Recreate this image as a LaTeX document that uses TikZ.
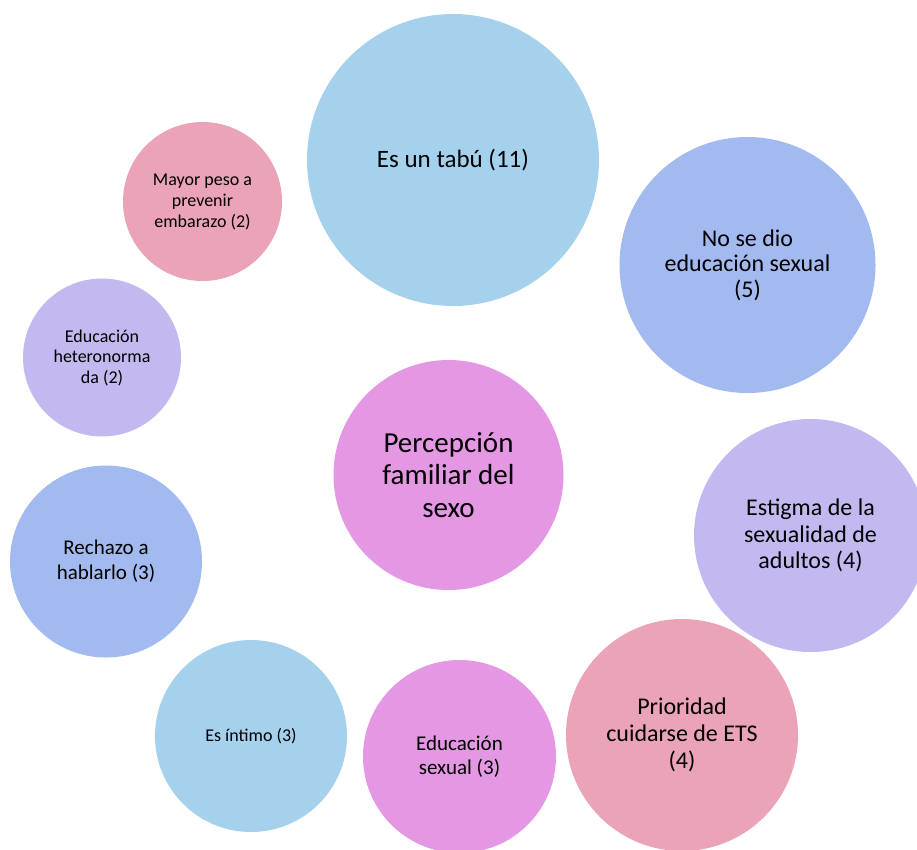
\documentclass[tikz,border=0pt]{standalone}
\usepackage{fontspec}
\setmainfont{Carlito}
\definecolor{cBlue}{RGB}{166,209,236}
\definecolor{cPeri}{RGB}{163,186,241}
\definecolor{cPink}{RGB}{234,163,183}
\definecolor{cLav}{RGB}{195,185,240}
\definecolor{cMag}{RGB}{228,151,227}
\tikzset{
  bubble/.style={circle, inner sep=0pt, align=center, text=black},
  fs/.style 2 args={font=\fontsize{#1}{#2}\selectfont},
}
\begin{document}
\begin{tikzpicture}[x=1pt, y=-1pt]
\useasboundingbox (0,0) rectangle (917,849);
\fill[white] (0,0) rectangle (917,849);

\node[bubble, fill=cBlue, minimum size=292pt, fs={25}{28}] (tabu) at (453,160) {Es un tabú (11)};
\node[bubble, fill=cPeri, minimum size=256pt, fs={24}{25.5}] (nose) at (747.5,265) {No se dio\\educación sexual\\(5)};
\node[bubble, fill=cPink, minimum size=159pt, fs={18}{21}] (mayor) at (202.5,201.5) {Mayor peso a\\prevenir\\embarazo (2)};
\node[bubble, fill=cLav, minimum size=158pt, fs={18}{20.5}] (hetero) at (102,357.5) {Educación\\heteronorma\\da (2)};
\node[bubble, fill=cMag, minimum size=230pt, fs={29}{32.5}] (perc) at (448.5,475) {Percepción\\familiar del\\sexo};
\node[bubble, fill=cLav, minimum size=233pt, fs={24}{26.7}] (estigma) at (810.5,535.5) {Estigma de la\\sexualidad de\\adultos (4)};
\node[bubble, fill=cPeri, minimum size=192pt, fs={21}{24.7}] (rechazo) at (106,561.5) {Rechazo a\\hablarlo (3)};
\node[bubble, fill=cPink, minimum size=232pt, fs={24}{27}] (prioridad) at (682,735) {Prioridad\\cuidarse de ETS\\(4)};
\node[bubble, fill=cBlue, minimum size=192pt, fs={18}{21}] (intimo) at (251,736) {Es íntimo (3)};
\node[bubble, fill=cMag, minimum size=193pt, fs={21}{23.3}] (edsex) at (459.5,756.5) {Educación\\sexual (3)};
\end{tikzpicture}
\end{document}
